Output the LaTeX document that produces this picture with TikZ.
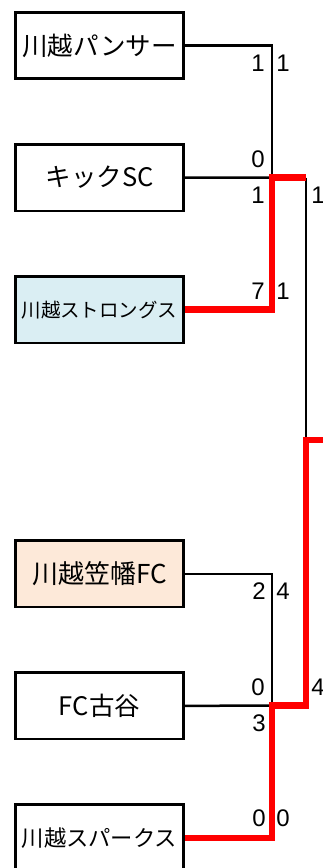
\documentclass[tikz,border=0pt]{standalone}
\usepackage{fontspec}
\setmainfont{Noto Sans CJK JP}
\newfontfamily\digitfont{Liberation Sans}
\usetikzlibrary{positioning}
\definecolor{bluefill}{HTML}{DAEEF3}
\definecolor{peachfill}{HTML}{FDE9D9}

\begin{document}
\begin{tikzpicture}[x=1pt, y=-1pt, node distance=63pt]
        \tikzset{
            team/.style={draw, line width=2.6pt, minimum width=168pt, minimum height=66.5pt, inner sep=0pt, font=\fontsize{25.5}{30}\selectfont},
            strongbox/.style={team, fill=bluefill, font=\fontsize{19.5}{24}\selectfont},
            kasabox/.style={team, fill=peachfill, font=\fontsize{26}{30}\selectfont},
            sparkbox/.style={team, font=\fontsize{22.3}{26}\selectfont},
            score/.style={inner sep=0pt, font=\digitfont\fontsize{24}{24}\selectfont},
            line/.style={line width=2.5pt},
            win/.style={line width=6.8pt, red, line join=miter}
        }
        \useasboundingbox (0,0) rectangle (323,868);

        % --- UPPER BLOCK ---
        \node[team] (pan) at (99.5,45.5) {川越パンサー};
        \node[team, below=of pan] (kick) {キックSC};
        \node[strongbox, below=of kick] (strong) {川越ストロングス};

        % --- LOWER BLOCK ---
        \node[kasabox, below=195pt of strong] (kasa) {川越笠幡FC};
        \node[team, below=of kasa] (furuya) {FC古谷};
        \node[sparkbox, below=of furuya] (spark) {川越スパークス};

        % junctions
        \coordinate (m1) at (272,177.5);
        \coordinate (s1) at (306,177.5);
        \coordinate (m2) at (272,705.5);
        \coordinate (s2) at (306,705.5);
        \coordinate (f) at (306,440);
        \coordinate (fin) at (335,440);

        % Black lines
        \draw[line] (pan.east) -| (m1);
        \draw[line] (kick.east) -- (m1);
        \draw[line] (s1) -- (f);
        \draw[line] (kasa.east) -| (m2);
        \draw[line] (furuya.east) -- (m2);

        % Winner path
        \draw[win] (strong.east) -| (m1) -- (s1);
        \draw[win] (spark.east) -| (m2) -- (s2) -- (f) -- (fin);

        % Scores
        \node[score] (a1) at (258,63.5) {1};
        \node[score] (a2) at (283,63.5) {1};
        \node[score] (b1) at (258,159) {0};
        \node[score] (b2) at (258,195) {1};
        \node[score] (b3) at (318,195) {1};
        \node[score] (c1) at (258,291) {7};
        \node[score] (c2) at (283,291) {1};
        \node[score] (d1) at (259,591) {2};
        \node[score] (d2) at (283,591) {4};
        \node[score] (e1) at (258,687) {0};
        \node[score] (e2) at (318,687) {4};
        \node[score] (e3) at (259,723) {3};
        \node[score] (g1) at (259,818) {0};
        \node[score] (g2) at (283,818) {0};

    \end{tikzpicture}
\end{document}
